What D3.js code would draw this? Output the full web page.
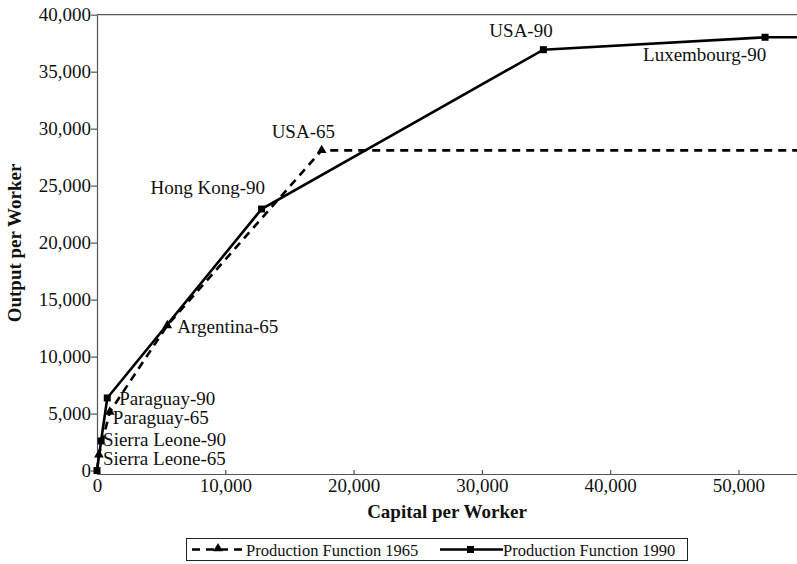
<!DOCTYPE html>
<html>
<head>
<meta charset="utf-8">
<script src="https://cdn.jsdelivr.net/npm/d3@7"></script>
<style>
  html, body { margin: 0; padding: 0; background: #fff; }
  svg text { font-family: "Liberation Serif", "Times New Roman", serif; fill: #111; }
</style>
</head>
<body>
<svg id="chart" width="797" height="564"></svg>
<script>
// Capital and output per worker along the two production frontiers
const xMax = 54560;
const labels1965 = ["", "Sierra Leone-65", "Paraguay-65", "Argentina-65", "USA-65", ""];
const capital1965 = [0, 150, 1000, 5480, 17510, xMax];
const output1965 = [0, 1400, 5150, 12740, 28100, 28100];

const labels1990 = ["", "Sierra Leone-90", "Paraguay-90", "Hong Kong-90", "USA-90", "Luxembourg-90", ""];
const capital1990 = [0, 320, 800, 12830, 34790, 52070, xMax];
const output1990 = [0, 2600, 6370, 22950, 36930, 38020, 38020];

const xTicks = [0, 10000, 20000, 30000, 40000, 50000];
const yTicks = [0, 5000, 10000, 15000, 20000, 25000, 30000, 35000, 40000];

// Label placement offsets (text start relative to point)
const labelPos = {
  "Sierra Leone-65": [4, 10.5],
  "Paraguay-65": [3, 12],
  "Argentina-65": [10, 8],
  "USA-65": [-50, -12],
  "Sierra Leone-90": [2, 5],
  "Paraguay-90": [12, 7],
  "Hong Kong-90": [-111, -15],
  "USA-90": [-54, -12.5],
  "Luxembourg-90": [-122, 24]
};

const svg = d3.select("#chart");
const plotL = 97, plotR = 797, plotT = 14.7, plotB = 474;

const x = d3.scaleLinear().domain([0, xMax]).range([plotL, plotR]);
const y = d3.scaleLinear().domain([-300, 40000]).range([plotB, plotT]);

const axisColor = "#555";

// Frame top line
svg.append("line")
  .attr("x1", plotL).attr("x2", plotR).attr("y1", plotT).attr("y2", plotT)
  .attr("stroke", axisColor).attr("stroke-width", 1.2);

const fmt = d3.format(",");

const gx = svg.append("g").attr("transform", `translate(0,${plotB})`)
  .call(d3.axisBottom(x).tickValues(xTicks).tickFormat(fmt).tickSize(-4).tickSizeOuter(0));
const gy = svg.append("g").attr("transform", `translate(${plotL},0)`)
  .call(d3.axisLeft(y).tickValues(yTicks).tickFormat(fmt).tickSize(6).tickSizeOuter(0));

[gx, gy].forEach(g => {
  g.select(".domain").attr("stroke", axisColor).attr("stroke-width", 1.2);
  g.selectAll(".tick line").attr("stroke", axisColor).attr("stroke-width", 1.2);
  g.selectAll(".tick text").attr("font-size", 19).attr("font-family", "Liberation Serif").attr("fill", "#111");
});
gx.selectAll(".tick text").attr("y", 18).attr("dy", 0);
gy.selectAll(".tick text").attr("x", -6);

// Axis titles
svg.append("text")
  .attr("x", 447).attr("y", 518)
  .attr("text-anchor", "middle")
  .attr("font-size", 19).attr("font-weight", "bold")
  .text("Capital per Worker");
svg.append("text")
  .attr("transform", "translate(21,243) rotate(-90)")
  .attr("text-anchor", "middle")
  .attr("font-size", 19).attr("font-weight", "bold")
  .text("Output per Worker");

const data1965 = capital1965.map((c, i) => ({ c, o: output1965[i], label: labels1965[i] }));
const data1990 = capital1990.map((c, i) => ({ c, o: output1990[i], label: labels1990[i] }));

const line = d3.line().x(d => x(d.c)).y(d => y(d.o));

svg.append("path").datum(data1965)
  .attr("d", line).attr("fill", "none")
  .attr("stroke", "#000").attr("stroke-width", 2.6)
  .attr("stroke-dasharray", "8,6");

svg.append("path").datum(data1990)
  .attr("d", line).attr("fill", "none")
  .attr("stroke", "#000").attr("stroke-width", 2.6);

const tri = d3.symbol().type(d3.symbolTriangle).size(40);
svg.selectAll(".m65").data(data1965.filter(d => d.label)).enter()
  .append("path").attr("class", "m65")
  .attr("d", tri)
  .attr("transform", d => `translate(${x(d.c)},${y(d.o)})`)
  .attr("fill", "#000");

svg.selectAll(".m90").data(data1990.filter((d, i) => i < data1990.length - 1)).enter()
  .append("rect").attr("class", "m90")
  .attr("x", d => x(d.c) - 3.5).attr("y", d => y(d.o) - 3.5)
  .attr("width", 7).attr("height", 7)
  .attr("fill", "#000");

// Point labels
const labelled = data1965.concat(data1990).filter(d => d.label);
svg.selectAll(".plabel").data(labelled).enter()
  .append("text").attr("class", "plabel")
  .attr("x", d => x(d.c) + labelPos[d.label][0])
  .attr("y", d => y(d.o) + labelPos[d.label][1])
  .attr("font-size", 19)
  .text(d => d.label);

// Legend
const lg = svg.append("g");
lg.append("rect").attr("x", 186.5).attr("y", 538.5).attr("width", 501).attr("height", 22)
  .attr("fill", "#fff").attr("stroke", "#222").attr("stroke-width", 1);
lg.append("line").attr("x1", 192).attr("x2", 244).attr("y1", 549.5).attr("y2", 549.5)
  .attr("stroke", "#000").attr("stroke-width", 2.6).attr("stroke-dasharray", "8,6");
lg.append("path").attr("d", tri).attr("transform", "translate(218,548.5)").attr("fill", "#000");
lg.append("text").attr("x", 246).attr("y", 555.5).attr("font-size", 16.5).text("Production Function 1965");
lg.append("line").attr("x1", 440).attr("x2", 503).attr("y1", 549.5).attr("y2", 549.5)
  .attr("stroke", "#000").attr("stroke-width", 2.6);
lg.append("rect").attr("x", 467).attr("y", 546).attr("width", 7).attr("height", 7).attr("fill", "#000");
lg.append("text").attr("x", 503).attr("y", 555.5).attr("font-size", 16.5).text("Production Function 1990");
</script>
</body>
</html>
